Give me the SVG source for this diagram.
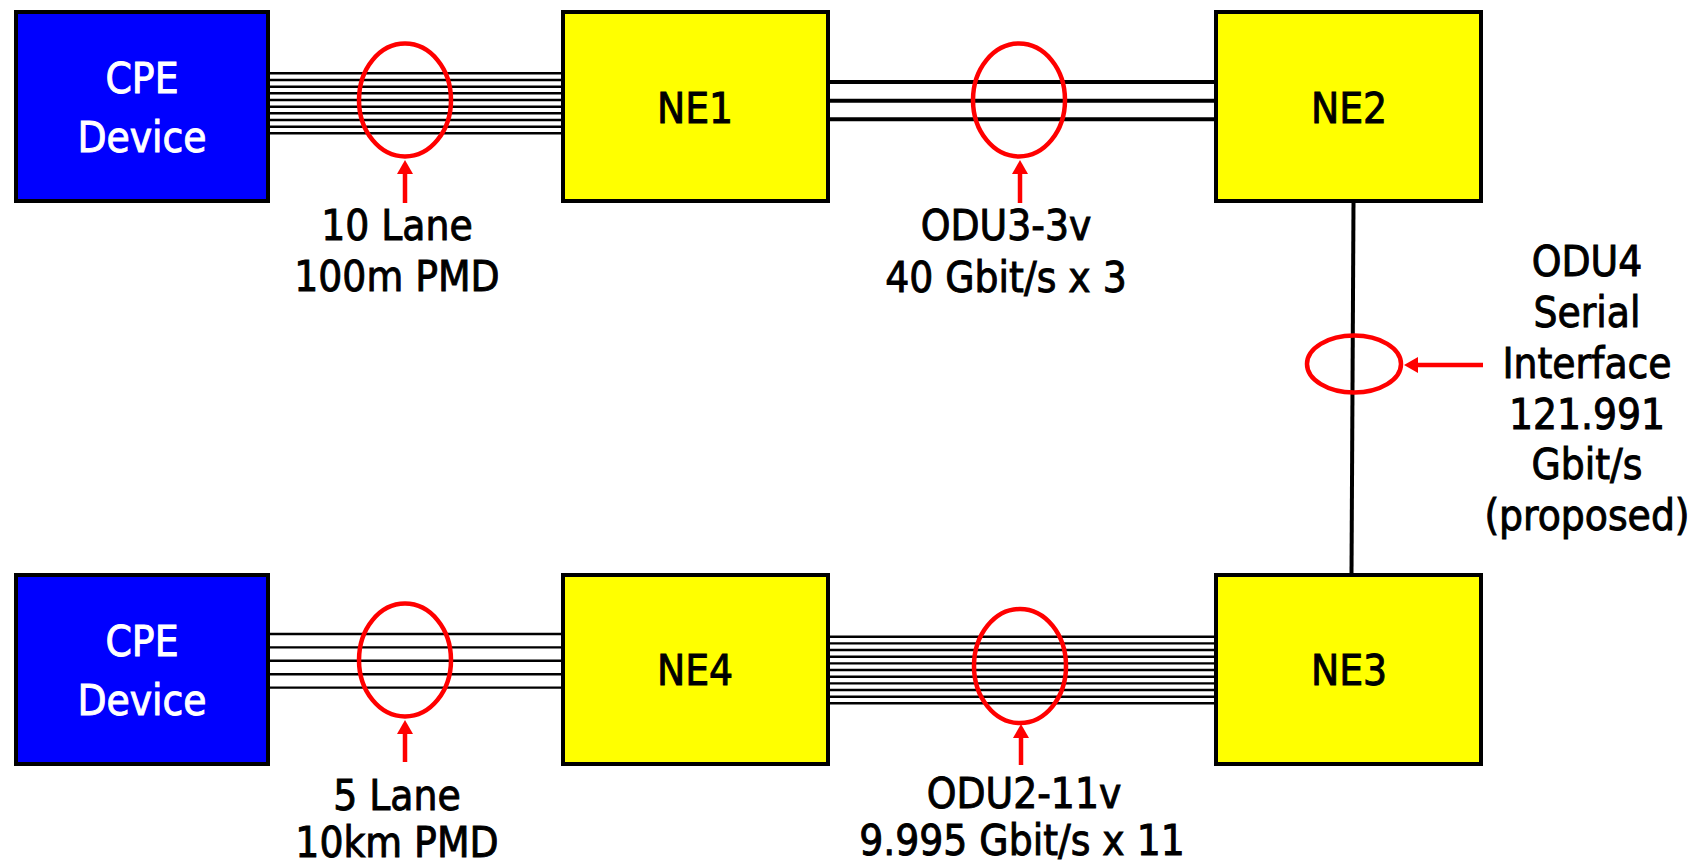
<svg xmlns="http://www.w3.org/2000/svg" width="1707" height="866" viewBox="0 0 1707 866">
<style>
.box{stroke:#000;stroke-width:4}
.cpe{fill:#0000ff}
.ne{fill:#ffff00}
.t{font-family:"DejaVu Sans Condensed","DejaVu Sans",sans-serif;font-stretch:condensed;font-size:42px;text-anchor:middle;fill:#000;stroke:#000;stroke-width:0.9}
.w{fill:#fff;stroke:#fff}
.lane{stroke:#000;stroke-width:2.4;fill:none}
.thick{stroke:#000;stroke-width:4;fill:none}
.ring{fill:none;stroke:#ff0000;stroke-width:4.5}
.arr{stroke:#ff0000;stroke-width:4.5;fill:none;marker-end:url(#ah)}
</style>
<defs>
<marker id="ah" markerUnits="userSpaceOnUse" markerWidth="16" markerHeight="18" refX="1" refY="8" orient="auto" overflow="visible">
<path d="M0,0 L14,8 L0,16 z" fill="#ff0000"/>
</marker>
</defs>
<rect width="1707" height="866" fill="#fff"/>
<g id="connectors">
<g id="lanes-cpe1-ne1">
<line class="lane" x1="270" y1="73.3" x2="562" y2="73.3"/>
<line class="lane" x1="270" y1="80" x2="562" y2="80"/>
<line class="lane" x1="270" y1="86.7" x2="562" y2="86.7"/>
<line class="lane" x1="270" y1="93.3" x2="562" y2="93.3"/>
<line class="lane" x1="270" y1="100" x2="562" y2="100"/>
<line class="lane" x1="270" y1="106.7" x2="562" y2="106.7"/>
<line class="lane" x1="270" y1="113.3" x2="562" y2="113.3"/>
<line class="lane" x1="270" y1="120" x2="562" y2="120"/>
<line class="lane" x1="270" y1="126.7" x2="562" y2="126.7"/>
<line class="lane" x1="270" y1="133.3" x2="562" y2="133.3"/>
</g>
<g id="lanes-ne1-ne2">
<line class="thick" x1="830" y1="82" x2="1215" y2="82"/>
<line class="thick" x1="830" y1="100.7" x2="1215" y2="100.7"/>
<line class="thick" x1="830" y1="119.3" x2="1215" y2="119.3"/>
</g>
<line id="link-ne2-ne3" class="thick" x1="1353.5" y1="202" x2="1351.5" y2="574"/>
<g id="lanes-cpe2-ne4">
<line class="lane" x1="270" y1="634" x2="562" y2="634"/>
<line class="lane" x1="270" y1="647.4" x2="562" y2="647.4"/>
<line class="lane" x1="270" y1="660.8" x2="562" y2="660.8"/>
<line class="lane" x1="270" y1="674.2" x2="562" y2="674.2"/>
<line class="lane" x1="270" y1="687.6" x2="562" y2="687.6"/>
</g>
<g id="lanes-ne4-ne3">
<line class="lane" x1="830" y1="636.7" x2="1215" y2="636.7"/>
<line class="lane" x1="830" y1="643.4" x2="1215" y2="643.4"/>
<line class="lane" x1="830" y1="650" x2="1215" y2="650"/>
<line class="lane" x1="830" y1="656.7" x2="1215" y2="656.7"/>
<line class="lane" x1="830" y1="663.4" x2="1215" y2="663.4"/>
<line class="lane" x1="830" y1="670" x2="1215" y2="670"/>
<line class="lane" x1="830" y1="676.7" x2="1215" y2="676.7"/>
<line class="lane" x1="830" y1="683.4" x2="1215" y2="683.4"/>
<line class="lane" x1="830" y1="690" x2="1215" y2="690"/>
<line class="lane" x1="830" y1="696.7" x2="1215" y2="696.7"/>
<line class="lane" x1="830" y1="703.3" x2="1215" y2="703.3"/>
</g>
</g>
<g id="cpe1"><rect class="box cpe" x="16" y="12" width="252" height="189"/>
<text class="t w" x="142" y="93">CPE</text><text class="t w" x="142" y="152">Device</text></g>
<g id="ne1"><rect class="box ne" x="563" y="12" width="265" height="189"/>
<text class="t" x="695" y="123">NE1</text></g>
<g id="ne2"><rect class="box ne" x="1216" y="12" width="265" height="189"/>
<text class="t" x="1349" y="123">NE2</text></g>
<g id="cpe2"><rect class="box cpe" x="16" y="575" width="252" height="189"/>
<text class="t w" x="142" y="656">CPE</text><text class="t w" x="142" y="715">Device</text></g>
<g id="ne4"><rect class="box ne" x="563" y="575" width="265" height="189"/>
<text class="t" x="695" y="685">NE4</text></g>
<g id="ne3"><rect class="box ne" x="1216" y="575" width="265" height="189"/>
<text class="t" x="1349" y="685">NE3</text></g>
<g id="callouts">
<ellipse class="ring" cx="405" cy="100" rx="46" ry="56.5"/>
<line class="arr" x1="405" y1="203" x2="405" y2="173"/>
<ellipse class="ring" cx="1019" cy="100" rx="46" ry="56.5"/>
<line class="arr" x1="1020" y1="203" x2="1020" y2="173"/>
<ellipse class="ring" cx="1354" cy="364" rx="47" ry="28.5"/>
<line class="arr" x1="1483" y1="365" x2="1417" y2="365"/>
<ellipse class="ring" cx="405" cy="660" rx="46" ry="56.5"/>
<line class="arr" x1="405" y1="762" x2="405" y2="733"/>
<ellipse class="ring" cx="1020" cy="666" rx="46" ry="57"/>
<line class="arr" x1="1021" y1="765" x2="1021" y2="737"/>
</g>
<g id="labels">
<text class="t" x="397" y="240">10 Lane</text>
<text class="t" x="397" y="291">100m PMD</text>
<text class="t" x="1006" y="240">ODU3-3v</text>
<text class="t" x="1006" y="292">40 Gbit/s x 3</text>
<text class="t" x="1587" y="276">ODU4</text>
<text class="t" x="1587" y="327">Serial</text>
<text class="t" x="1587" y="378">Interface</text>
<text class="t" x="1587" y="429">121.991</text>
<text class="t" x="1587" y="479">Gbit/s</text>
<text class="t" x="1587" y="530">(proposed)</text>
<text class="t" x="397" y="810">5 Lane</text>
<text class="t" x="397" y="857">10km PMD</text>
<text class="t" x="1024" y="808">ODU2-11v</text>
<text class="t" x="1022" y="855">9.995 Gbit/s x 11</text>
</g>
</svg>
